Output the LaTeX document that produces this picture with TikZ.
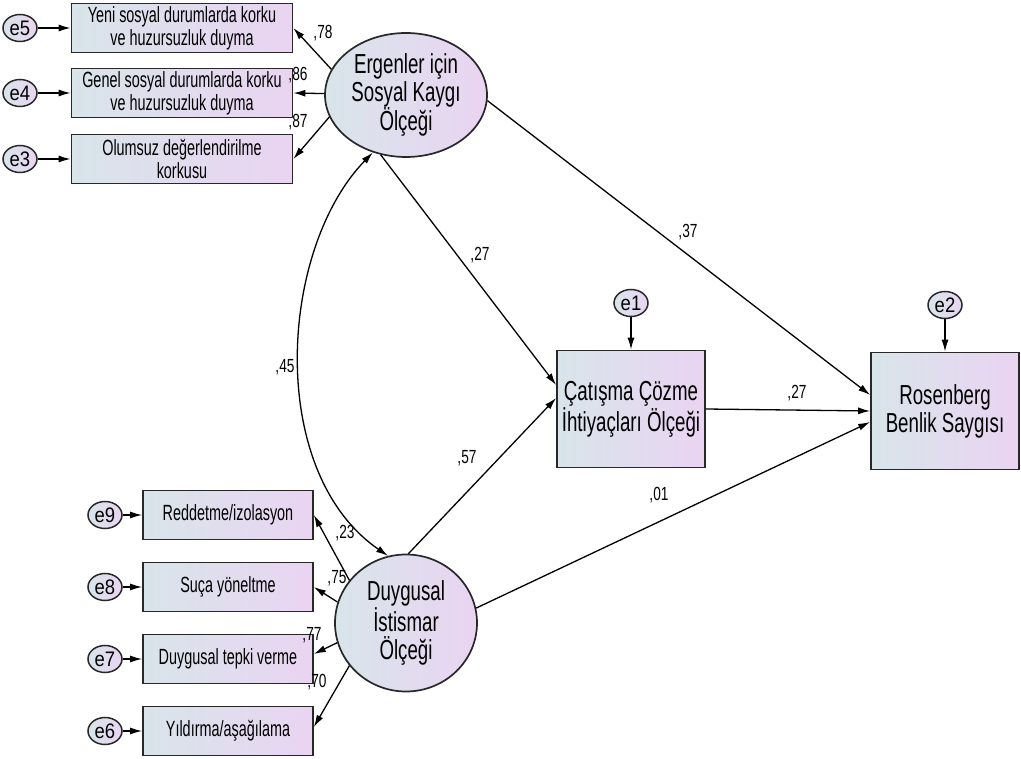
\documentclass[tikz,border=0pt]{standalone}
\usepackage{fontspec}
\setmainfont{Liberation Sans}
\newfontfamily\bigfont[FakeStretch=0.68]{Liberation Sans}
\newfontfamily\itemfont[FakeStretch=0.655]{Liberation Sans}
\newfontfamily\numfont[FakeStretch=0.72]{Liberation Sans}
\newfontfamily\errfont[FakeStretch=0.88]{Liberation Sans}
\usetikzlibrary{arrows.meta,shapes.geometric}
\definecolor{shadeL}{RGB}{216,229,234}
\definecolor{shadeR}{RGB}{234,212,242}
\definecolor{rim}{RGB}{40,40,40}

\begin{document}
\begin{tikzpicture}[x=1pt, y=-1pt, line width=1.3pt,
	>={Latex[length=12pt,width=7pt]},
	obs/.style={draw=rim, line width=1.7pt, rectangle, left color=shadeL, right color=shadeR, inner sep=0pt, align=center},
	itemA/.style={obs, minimum width=221pt, minimum height=49pt, font=\itemfont\fontsize{22}{23}\selectfont},
	itemB/.style={obs, minimum width=170pt, minimum height=49pt, font=\itemfont\fontsize{22}{23}\selectfont},
	outc/.style={obs, minimum width=148pt, minimum height=117pt, font=\bigfont\fontsize{27.5}{28}\selectfont},
	lat/.style={obs, ellipse, font=\bigfont\fontsize{27.5}{28}\selectfont},
	err/.style={obs, ellipse, line width=1.5pt, minimum width=34pt, minimum height=27pt, font=\errfont\fontsize{21}{21}\selectfont},
	lab/.style={inner sep=0pt, font=\numfont\fontsize{19}{19}\selectfont}]
		\useasboundingbox (0,0) rectangle (1021,759);
		
		% latent variables
		\node[lat, minimum width=162pt, minimum height=124pt] (f1) at (406,95) {Ergenler için\\Sosyal Kaygı\\Ölçeği};
		\node[lat, minimum width=142pt, minimum height=137pt] (f2) at (406,623) {Duygusal\\İstismar\\Ölçeği};
		
		% indicators, top
		\node[itemA] (i5) at (182,28) {Yeni sosyal durumlarda korku\\ve huzursuzluk duyma};
		\node[itemA] (i4) at (182,93) {Genel sosyal durumlarda korku\\ve huzursuzluk duyma};
		\node[itemA] (i3) at (182,159) {Olumsuz değerlendirilme\\korkusu};
		
		% indicators, bottom
		\node[itemB] (i9) at (228,515) {Reddetme/izolasyon};
		\node[itemB] (i8) at (228,587) {Suça yöneltme};
		\node[itemB] (i7) at (228,659) {Duygusal tepki verme};
		\node[itemB] (i6) at (228,731) {Yıldırma/aşağılama};
		
		% outcomes
		\node[outc] (c) at (631,409) {Çatışma Çözme\\İhtiyaçları Ölçeği};
		\node[outc] (r) at (945,411) {Rosenberg\\Benlik Saygısı};
		
		% error terms
		\node[err] (e5) at (20,28) {e5};
		\node[err] (e4) at (20,93) {e4};
		\node[err] (e3) at (20,159) {e3};
		\node[err] (e9) at (105,515) {e9};
		\node[err] (e8) at (105,587) {e8};
		\node[err] (e7) at (105,659) {e7};
		\node[err] (e6) at (105,731) {e6};
		\node[err] (e1) at (631,303) {e1};
		\node[err] (e2) at (945,305) {e2};
		
		\draw[->] (e5) -- (i5);
		\draw[->] (e4) -- (i4);
		\draw[->] (e3) -- (i3);
		\draw[->] (e9) -- (i9);
		\draw[->] (e8) -- (i8);
		\draw[->] (e7) -- (i7);
		\draw[->] (e6) -- (i6);
		\draw[->] (e1) -- (c);
		\draw[->] (e2) -- (r);
		
		\draw[->] (f1.161) -- (i5.east);
		\draw[->] (f1.179) -- (i4.east);
		\draw[->] (f1.196) -- (i3.east);
		
		\draw[->] (f2.143) -- (i9.east);
		\draw[->] (f2.163) -- (i8.east);
		\draw[->] (f2.196) -- ([yshift=5pt]i7.east);
		\draw[->] (f2.217) -- ([yshift=4pt]i6.east);
		
		\draw[->] (f1.-113) -- ([yshift=24pt]c.west);
		\draw[->] (f2.88) -- ([yshift=11pt]c.west);
		\draw[->] (f1.-4) -- ([yshift=16pt]r.west);
		\draw[->] (c.east) -- (r.west);
		\draw[->] (f2.12) -- ([yshift=-11pt]r.west);
		
		\draw[<->] (f1.-120) .. controls +(-94,97) and +(-122,-84) .. (f2.105);
		
		% estimates
		\node[lab] (l78) at (323,33) {,78};
		\node[lab] (l86) at (298,75) {,86};
		\node[lab] (l87) at (298,122) {,87};
		\node[lab] (l27a) at (480,255) {,27};
		\node[lab] (l37) at (688,232) {,37};
		\node[lab] (l45) at (285,367) {,45};
		\node[lab] (l57) at (467,458) {,57};
		\node[lab] (l27b) at (797,393) {,27};
		\node[lab] (l01) at (659,495) {,01};
		\node[lab] (l23) at (345,533) {,23};
		\node[lab] (l75) at (337,578) {,75};
		\node[lab] (l77) at (312,635) {,77};
		\node[lab] (l70) at (317,682) {,70};
	\end{tikzpicture}
\end{document}
